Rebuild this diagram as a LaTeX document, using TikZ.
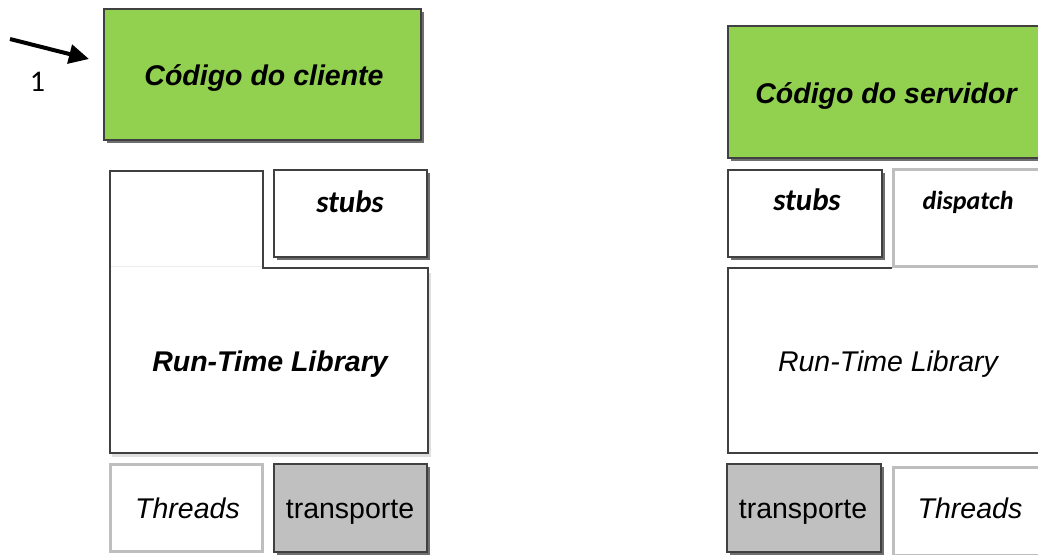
\documentclass[tikz,border=0pt]{standalone}
\usepackage{fontspec}
\setmainfont{Liberation Sans}
\newfontfamily\calf{Carlito}
\usetikzlibrary{shadows,arrows.meta}
\definecolor{grn}{RGB}{146,208,80}
\definecolor{tgray}{RGB}{192,192,192}
\definecolor{lgray}{RGB}{190,190,190}
\definecolor{dgray}{RGB}{64,64,64}
\definecolor{shd}{RGB}{110,110,110}
\definecolor{lyel}{RGB}{255,255,200}
\pgfdeclarehorizontalshading{stubshade}{100bp}{color(0bp)=(lyel); color(4bp)=(lyel); color(7bp)=(white); color(93bp)=(white); color(96bp)=(lyel); color(100bp)=(lyel)}
\tikzset{
  boxbase/.style={rectangle, anchor=north west, inner sep=0pt, outer sep=0pt},
  greenbox/.style={boxbase, fill=grn, draw=dgray, line width=1.2pt,
     drop shadow={shadow xshift=3pt, shadow yshift=-3pt, fill=shd, opacity=1}},
  stubbox/.style={boxbase, shading=stubshade, draw=dgray, line width=1.2pt,
     drop shadow={shadow xshift=3pt, shadow yshift=-3pt, fill=shd, opacity=1}},
  transbox/.style={boxbase, fill=tgray, draw=dgray, line width=1.2pt,
     drop shadow={shadow xshift=3pt, shadow yshift=-3pt, fill=shd, opacity=1}},
  lightbox/.style={boxbase, fill=white, draw=lgray, line width=3pt},
  rtlline/.style={draw=dgray, line width=1.2pt},
  bigtxt/.style={anchor=base, inner sep=0pt, font=\fontsize{28.5}{32}\selectfont},
  caltxt/.style={anchor=base, inner sep=0pt, font=\calf\bfseries\itshape\fontsize{31}{34}\selectfont},
  dsptxt/.style={anchor=base, inner sep=0pt, font=\calf\bfseries\itshape\fontsize{26}{30}\selectfont},
  arr/.style={line width=4pt, -{Triangle[length=20pt, width=19pt]}}
}
\begin{document}
\begin{tikzpicture}[x=1pt,y=-1pt]
\useasboundingbox (0,0) rectangle (1038,554);
\clip (0,0) rectangle (1038,554);
% ---------- left column ----------
\node[greenbox, minimum width=317pt, minimum height=131pt] (cliente) at (104,9) {};
\node[bigtxt, font=\bfseries\itshape\fontsize{28.5}{32}\selectfont] (tcliente) at (264,85) {Código do cliente};
\coordinate (a1) at (10,39);
\coordinate (a2) at (89,59);
\draw[arr] (a1) -- (a2);
\node[anchor=base, inner sep=0pt, font=\calf\fontsize{30}{33}\selectfont] (one) at (37.5,91) {1};
% L-shaped run-time library
\fill[gray!25] (112,273) rectangle (431,457);
\path[fill=white] (110,171) -- (263,171) -- (263,268) -- (428,268) -- (428,453) -- (110,453) -- cycle;
\draw[gray!15, line width=1pt] (111,266) -- (262,266);
\draw[rtlline] (110,171) -- (263,171) -- (263,268) -- (428,268) -- (428,453) -- (110,453) -- cycle;
\node[bigtxt, font=\bfseries\itshape\fontsize{28.5}{32}\selectfont] (rtlL) at (270,371) {Run-Time Library};
\node[stubbox, minimum width=153pt, minimum height=87pt] (stubsL) at (274,170) {};
\node[caltxt] (tstubsL) at (350,212) {stubs};
\node[lightbox, minimum width=152pt, minimum height=87pt] (thrL) at (110.5,464.5) {};
\node[bigtxt, font=\itshape\fontsize{28.5}{32}\selectfont] (tthrL) at (187.5,518) {Threads};
\node[transbox, minimum width=153pt, minimum height=88pt] (trL) at (274,464) {};
\node[bigtxt] (ttrL) at (350,518) {transporte};
% ---------- right column ----------
\node[greenbox, minimum width=340pt, minimum height=132pt] (servidor) at (728,26) {};
\node[bigtxt, font=\bfseries\itshape\fontsize{28.5}{32}\selectfont] (tservidor) at (886,103) {Código do servidor};
\node[lightbox, minimum width=160pt, minimum height=97pt] (dispatch) at (893.5,169.5) {};
\node[dsptxt] (tdispatch) at (968,209) {dispatch};
\path[fill=white] (728,268) rectangle (1045,453);
\draw[rtlline] (892,268) -- (728,268) -- (728,453) -- (1045,453);
\node[bigtxt, font=\itshape\fontsize{28.5}{32}\selectfont] (rtlR) at (888,371) {Run-Time Library};
\node[stubbox, minimum width=154pt, minimum height=87pt] (stubsR) at (728,170) {};
\node[caltxt] (tstubsR) at (807,210) {stubs};
\node[transbox, minimum width=154pt, minimum height=88pt] (trR) at (727,464) {};
\node[bigtxt] (ttrR) at (803,518) {transporte};
\node[lightbox, minimum width=160pt, minimum height=88pt] (thrR) at (893.5,467.5) {};
\node[bigtxt, font=\itshape\fontsize{28.5}{32}\selectfont] (tthrR) at (970,518) {Threads};
\end{tikzpicture}
\end{document}
